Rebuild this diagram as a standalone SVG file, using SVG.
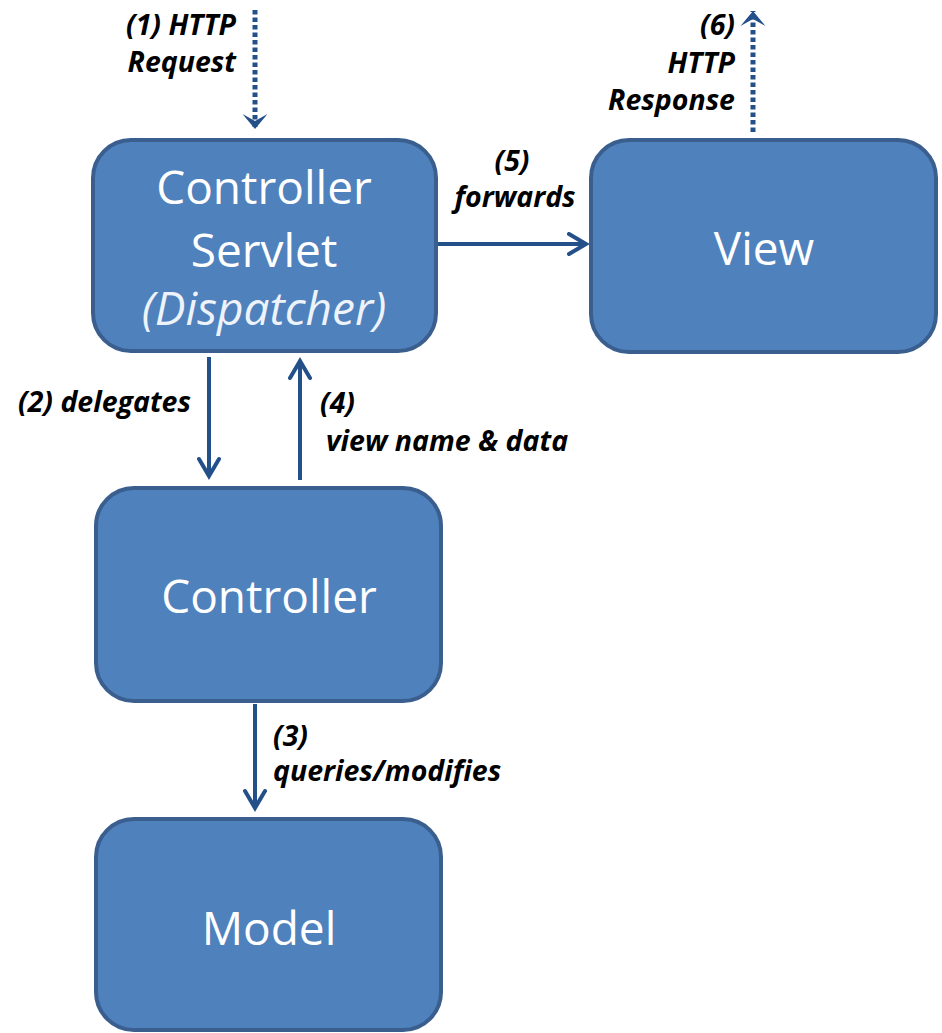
<svg xmlns="http://www.w3.org/2000/svg" width="942" height="1033" viewBox="0 0 942 1033">
<defs>
<style>
.box{fill:#4F81BD;stroke:#3A5F8F;stroke-width:4}
.nt{font-family:"Open Sans","Liberation Sans",sans-serif;font-size:46px;fill:#FFFFFF;text-anchor:middle}
.it{font-style:italic;fill:#EEF3FA}
.lb{font-family:"Open Sans","Liberation Sans",sans-serif;font-size:28.5px;font-weight:bold;font-style:italic;fill:#000000}
.conn{stroke:#24508A;stroke-width:4;fill:none}
.dot{stroke-width:5;stroke-dasharray:4.5 3}
</style>
<marker id="open" viewBox="-20 -12 24 24" markerWidth="24" markerHeight="24" refX="0" refY="0" orient="auto" markerUnits="userSpaceOnUse">
<path d="M-17,-10 L0,0 L-17,10" fill="none" stroke="#24508A" stroke-width="4" stroke-linecap="round" stroke-linejoin="miter"/>
</marker>
<marker id="stealth" viewBox="-17 -14 19 28" markerWidth="19" markerHeight="28" refX="0" refY="0" orient="auto" markerUnits="userSpaceOnUse">
<path d="M0,0 L-15,-12.5 L-8,0 L-15,12.5 Z" fill="#24508A"/>
</marker>
</defs>
<g id="connectors">
<line class="conn dot" x1="255" y1="10" x2="255" y2="129" marker-end="url(#stealth)"/>
<line class="conn dot" x1="753" y1="132" x2="753" y2="11" marker-end="url(#stealth)"/>
<line class="conn" x1="438" y1="244" x2="586" y2="244" marker-end="url(#open)"/>
<line class="conn" x1="209" y1="357" x2="209" y2="476" marker-end="url(#open)"/>
<line class="conn" x1="300" y1="480" x2="300" y2="361" marker-end="url(#open)"/>
<line class="conn" x1="255" y1="704" x2="255" y2="808" marker-end="url(#open)"/>
</g>
<g id="labels">
<text class="lb" text-anchor="end"><tspan x="236" y="35">(1) HTTP</tspan><tspan x="236" y="72">Request</tspan></text>
<text class="lb" text-anchor="end"><tspan x="735" y="35">(6)</tspan><tspan x="735" y="73">HTTP</tspan><tspan x="735" y="110">Response</tspan></text>
<text class="lb" text-anchor="middle"><tspan x="512" y="171">(5)</tspan><tspan x="515" y="207">forwards</tspan></text>
<text class="lb" x="18" y="412">(2) delegates</text>
<text class="lb"><tspan x="320" y="413">(4)</tspan><tspan x="326" y="451">view name &amp; data</tspan></text>
<text class="lb"><tspan x="273" y="746">(3)</tspan><tspan x="273" y="781">queries/modifies</tspan></text>
</g>
<g id="node-dispatcher">
<rect class="box" x="93" y="140" width="343" height="211" rx="38"/>
<text class="nt" x="264" y="204">Controller</text>
<text class="nt" x="264" y="267">Servlet</text>
<text class="nt it" x="264" y="325" font-size="43">(Dispatcher)</text>
</g>
<g id="node-view">
<rect class="box" x="591" y="140" width="345" height="212" rx="38"/>
<text class="nt" x="764" y="265">View</text>
</g>
<g id="node-controller">
<rect class="box" x="96" y="488" width="345" height="213" rx="38"/>
<text class="nt" x="269" y="613">Controller</text>
</g>
<g id="node-model">
<rect class="box" x="96" y="819" width="345" height="211" rx="38"/>
<text class="nt" x="269" y="945">Model</text>
</g>
</svg>
